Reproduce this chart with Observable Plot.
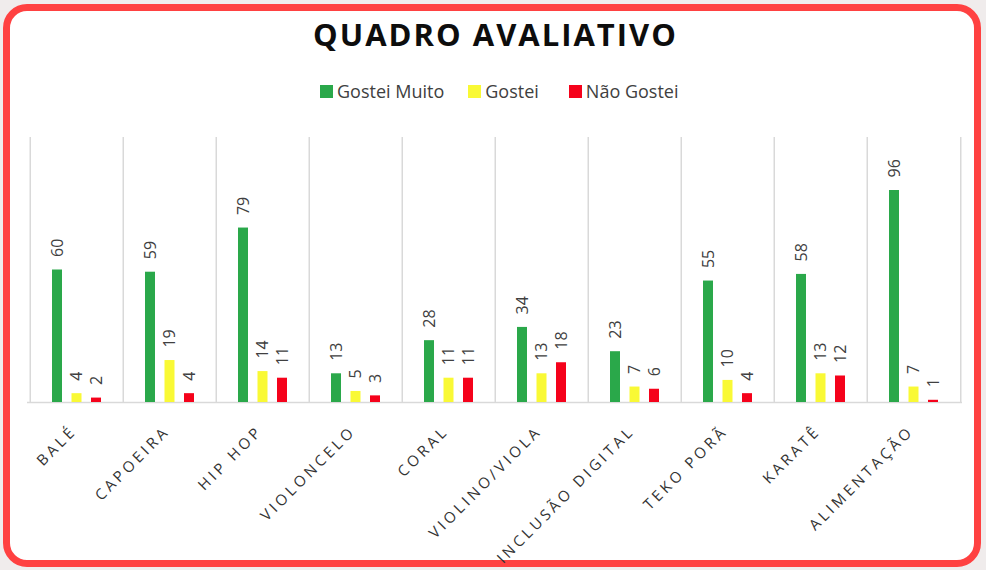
<!DOCTYPE html>
<html>
<head>
<meta charset="utf-8">
<script src="https://cdn.jsdelivr.net/npm/d3@7"></script>
<script src="https://cdn.jsdelivr.net/npm/@observablehq/plot@0.6"></script>
<style>
  html, body { margin: 0; padding: 0; }
  body { width: 986px; height: 570px; background: #f0ecec; position: relative; overflow: hidden; font-family: "Open Sans", sans-serif; }
  .card { position: absolute; left: 3px; top: 4px; width: 978px; height: 563px; box-sizing: border-box;
          border: 7px solid #ff4141; border-radius: 24px; background: #fff; }
  .title { position: absolute; left: 0; width: 991px; top: 13px; text-align: center; font-weight: 700;
           font-size: 31px; letter-spacing: 2px; color: #0d0d0d; line-height: 42px; }
  .legend { position: absolute; top: 79px; left: 320px; display: flex; align-items: center; font-size: 18px; color: #404040; line-height: 24px; }
  .legend .item { display: flex; align-items: center; }
  .legend .sw { width: 13px; height: 13px; margin-right: 4px; }
  #chart { position: absolute; left: 0; top: 110px; }
</style>
</head>
<body>
<div class="card"></div>
<div class="title">QUADRO AVALIATIVO</div>
<div class="legend" id="legend"></div>
<div id="chart"></div>
<script>
const categories = ["BALÉ", "CAPOEIRA", "HIP HOP", "VIOLONCELO", "CORAL", "VIOLINO/VIOLA", "INCLUSÃO DIGITAL", "TEKO PORÃ", "KARATÊ", "ALIMENTAÇÃO"];
const seriesNames = ["Gostei Muito", "Gostei", "Não Gostei"];
const gosteiMuito = [60, 59, 79, 13, 28, 34, 23, 55, 58, 96];
const gostei = [4, 19, 14, 5, 11, 13, 7, 10, 13, 7];
const naoGostei = [2, 4, 11, 3, 11, 18, 6, 4, 12, 1];
const seriesColors = ["#2aa84a", "#f9f935", "#f5021b"];

const seriesValues = [gosteiMuito, gostei, naoGostei];
const rowsBySeries = seriesValues.map((vals, k) =>
  categories.map((c, i) => ({category: c, series: seriesNames[k], value: vals[i]})));

// legend
const legend = document.getElementById("legend");
const legendGaps = [0, 24, 30];
seriesNames.forEach((name, k) => {
  const item = document.createElement("div");
  item.className = "item";
  item.style.marginLeft = legendGaps[k] + "px";
  const sw = document.createElement("span");
  sw.className = "sw";
  sw.style.background = seriesColors[k];
  const t = document.createElement("span");
  t.textContent = name;
  item.appendChild(sw); item.appendChild(t);
  legend.appendChild(item);
});

const W = 986, H = 450;
const marginLeft = 27, marginRight = 24, marginTop = 27, marginBottom = 158;
const band = (W - marginLeft - marginRight) / categories.length;
const barW = 10.5, step = 19.5;

const marks = [];
// separators
marks.push(Plot.ruleX(categories, {x: d => d, y1: 0, y2: 120, dx: -band / 2, stroke: "#d9d9d9", strokeWidth: 1.5}));
marks.push(Plot.ruleX(categories.slice(-1), {x: d => d, y1: 0, y2: 120, dx: band / 2, stroke: "#d9d9d9", strokeWidth: 1.5}));
marks.push(Plot.ruleY([0], {stroke: "#d9d9d9", strokeWidth: 1.5}));
rowsBySeries.forEach((rows, k) => {
  marks.push(Plot.barY(rows, {x: "category", y: "value", fill: seriesColors[k],
    insetLeft: (band - barW) / 2, insetRight: (band - barW) / 2, dx: (k - 1) * step}));
  marks.push(Plot.text(rows, {x: "category", y: "value", text: d => String(d.value), rotate: -90,
    textAnchor: "start", dx: (k - 1) * step, dy: -13, fontSize: 16, fill: "#404040",
    fontFamily: "Open Sans"}));
});
marks.push(Plot.text(categories, {x: d => d, frameAnchor: "bottom", text: d => d, rotate: -45,
  textAnchor: "end", lineAnchor: "top", dx: -7, dy: 22, fontSize: 15, fill: "#333333",
  fontFamily: "Open Sans"}));

const plot = Plot.plot({
  width: W, height: H,
  marginLeft, marginRight, marginTop, marginBottom,
  x: {domain: categories, type: "band", padding: 0, axis: null},
  y: {domain: [0, 120], axis: null},
  style: {background: "transparent", overflow: "visible"},
  marks
});
d3.select(plot).selectAll("text")
  .filter(function() { return categories.includes(this.textContent); })
  .style("letter-spacing", "3.4px")
  .style("font-weight", "500");
document.getElementById("chart").appendChild(plot);
</script>
</body>
</html>
